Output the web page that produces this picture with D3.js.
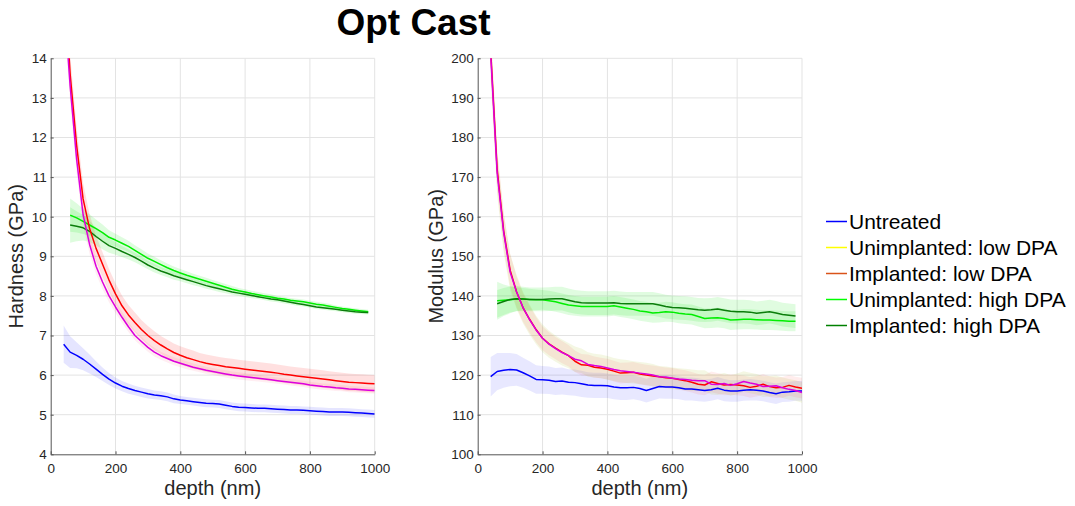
<!DOCTYPE html>
<html>
<head>
<meta charset="utf-8">
<script src="https://cdn.jsdelivr.net/npm/d3@7"></script>
<style>
  html, body { margin: 0; padding: 0; background: #ffffff; }
  svg { display: block; font-family: "Liberation Sans", Arial, Helvetica, sans-serif; }
</style>
</head>
<body>
<svg id="chart" width="1075" height="506"></svg>
<script>
// ---- depth grids (nm) ----
const depthLow = [40,60,80,100,120,140,160,180,200,220,240,260,280,300,320,340,360,380,400,420,440,460,480,500,520,540,560,580,600,620,640,660,680,700,720,740,760,780,800,820,840,860,880,900,920,940,960,980,1000];
const depthHigh = [60,80,100,120,140,160,180,200,220,240,260,280,300,320,340,360,380,400,420,440,460,480,500,520,540,560,580,600,620,640,660,680,700,720,740,760,780,800,820,840,860,880,900,920,940,960,980];

// ---- series labels and colours ----
const seriesNames = ["Untreated", "Unimplanted: low DPA", "Implanted: low DPA", "Unimplanted: high DPA", "Implanted: high DPA"];
const lineColors = ["#0000ff", "#dd00dd", "#ff0000", "#00ee00", "#0a7d0a"];
const legendColors = ["#0000ff", "#ffff00", "#d95319", "#00ff00", "#008000"];
const hardBandColors = ["rgba(0,0,255,0.10)", "rgba(255,40,90,0.08)", "rgba(255,0,0,0.12)", "rgba(0,230,0,0.13)", "rgba(0,230,0,0.13)"];
const modBandColors = ["rgba(0,0,255,0.09)", "rgba(180,200,70,0.15)", "rgba(255,0,0,0.07)", "rgba(0,230,0,0.12)", "rgba(0,230,0,0.12)"];
// drawing order of the mean curves (index into the series lists)
const drawOrder = [3, 4, 0, 2, 1];

// ---- hardness (GPa): mean and standard deviation ----
const hardUntreated = [6.78,6.58,6.50,6.40,6.28,6.15,6.02,5.90,5.80,5.72,5.66,5.61,5.57,5.53,5.50,5.48,5.45,5.40,5.37,5.35,5.33,5.31,5.29,5.28,5.27,5.24,5.21,5.19,5.18,5.17,5.16,5.16,5.15,5.14,5.13,5.12,5.12,5.11,5.10,5.09,5.08,5.07,5.07,5.07,5.06,5.05,5.04,5.03,5.02];
const hardUntreatedSd = [0.47,0.40,0.33,0.28,0.24,0.20,0.17,0.15,0.14,0.13,0.13,0.12,0.12,0.12,0.11,0.11,0.11,0.11,0.10,0.10,0.10,0.10,0.10,0.10,0.10,0.10,0.10,0.10,0.10,0.10,0.10,0.10,0.10,0.10,0.10,0.10,0.10,0.10,0.10,0.10,0.10,0.10,0.10,0.10,0.10,0.10,0.10,0.10,0.10];
const hardUnimpLow = [15.6,13.3,11.45,10.05,9.3,8.75,8.35,8.0,7.72,7.46,7.22,7.0,6.85,6.7,6.58,6.49,6.42,6.35,6.3,6.25,6.2,6.16,6.12,6.09,6.06,6.03,6.0,5.98,5.96,5.94,5.92,5.90,5.88,5.86,5.84,5.82,5.80,5.78,5.75,5.73,5.71,5.70,5.68,5.67,5.65,5.64,5.63,5.62,5.61];
const hardUnimpLowSd = [0.50,0.40,0.34,0.28,0.24,0.20,0.18,0.16,0.15,0.14,0.13,0.12,0.12,0.11,0.11,0.10,0.10,0.10,0.10,0.10,0.09,0.09,0.09,0.09,0.09,0.09,0.09,0.09,0.09,0.09,0.08,0.08,0.08,0.08,0.08,0.08,0.08,0.08,0.08,0.08,0.08,0.08,0.08,0.08,0.08,0.08,0.08,0.08,0.08];
const hardImpLow = [16.3,13.6,11.8,10.45,9.7,9.2,8.8,8.4,8.05,7.75,7.52,7.33,7.15,7.0,6.87,6.76,6.66,6.57,6.5,6.44,6.39,6.34,6.30,6.27,6.24,6.21,6.19,6.17,6.15,6.13,6.11,6.09,6.07,6.05,6.02,6.00,5.98,5.96,5.94,5.92,5.90,5.88,5.86,5.84,5.82,5.81,5.80,5.79,5.78];
const hardImpLowSd = [0.60,0.50,0.45,0.40,0.36,0.32,0.30,0.28,0.27,0.26,0.25,0.25,0.24,0.24,0.24,0.23,0.23,0.23,0.23,0.23,0.23,0.22,0.22,0.22,0.22,0.22,0.22,0.22,0.22,0.22,0.22,0.22,0.22,0.22,0.22,0.22,0.22,0.22,0.22,0.22,0.22,0.22,0.22,0.22,0.22,0.22,0.22,0.22,0.22];
const hardUnimpHigh = [10.04,9.97,9.88,9.79,9.7,9.6,9.48,9.41,9.33,9.25,9.15,9.05,8.95,8.87,8.79,8.71,8.64,8.58,8.52,8.47,8.42,8.37,8.32,8.27,8.22,8.17,8.13,8.10,8.06,8.03,8.0,7.97,7.94,7.92,7.89,7.87,7.85,7.82,7.79,7.77,7.74,7.71,7.68,7.66,7.64,7.62,7.60];
const hardUnimpHighSd = [0.42,0.37,0.32,0.27,0.23,0.20,0.18,0.16,0.15,0.14,0.13,0.13,0.12,0.12,0.11,0.11,0.10,0.10,0.10,0.09,0.09,0.09,0.08,0.08,0.08,0.08,0.07,0.07,0.07,0.07,0.07,0.07,0.06,0.06,0.06,0.06,0.06,0.06,0.06,0.06,0.06,0.05,0.05,0.05,0.05,0.05,0.05];
const hardImpHigh = [9.79,9.76,9.72,9.63,9.5,9.38,9.27,9.2,9.12,9.05,8.97,8.88,8.78,8.7,8.63,8.57,8.51,8.46,8.41,8.36,8.31,8.26,8.22,8.18,8.14,8.10,8.07,8.04,8.01,7.98,7.95,7.92,7.90,7.87,7.84,7.81,7.78,7.75,7.72,7.70,7.68,7.66,7.64,7.62,7.60,7.59,7.58];
const hardImpHighSd = [0.45,0.38,0.32,0.27,0.23,0.20,0.18,0.16,0.14,0.13,0.12,0.12,0.11,0.11,0.10,0.10,0.10,0.09,0.09,0.09,0.08,0.08,0.08,0.08,0.07,0.07,0.07,0.07,0.07,0.06,0.06,0.06,0.06,0.06,0.06,0.06,0.05,0.05,0.05,0.05,0.05,0.05,0.05,0.05,0.05,0.05,0.05];

// ---- modulus (GPa): mean and standard deviation ----
const modUntreated = [119.6,120.9,121.2,121.4,121.3,120.6,119.8,118.9,118.8,118.7,118.4,118.5,118.2,118.1,117.8,117.5,117.4,117.4,117.3,117.0,116.8,116.8,116.9,116.6,116.1,116.6,117.1,117.0,117.0,116.8,116.5,116.5,116.3,116.1,116.3,116.7,116.2,116.0,116.0,116.2,116.3,116.2,116.0,115.6,115.3,115.7,115.8,116.0,116.0];
const modUntreatedSd = [5.0,4.7,4.4,4.2,4.0,3.8,3.7,3.6,3.5,3.5,3.4,3.4,3.3,3.3,3.3,3.2,3.2,3.2,3.1,3.1,3.1,3.1,3.0,3.0,3.0,3.0,3.0,3.0,3.0,2.9,2.9,2.9,2.9,2.8,2.8,2.8,2.8,2.7,2.7,2.7,2.7,2.6,2.6,2.6,2.6,2.5,2.5,2.5,2.5];
const modUnimpLow = [201,171,156,146,141,137,134,131.4,129.3,127.8,126.7,125.7,124.9,124.0,123.6,122.7,122.4,122.2,121.8,121.4,121.1,120.9,120.7,120.5,120.3,120.0,119.6,119.5,119.2,119.0,118.9,118.7,118.6,118.6,117.7,117.6,117.9,117.4,117.8,118.4,118.0,117.7,117.1,117.2,117.3,116.8,116.4,116.1,115.6];
const modUnimpLowSd = [6.5,5.6,5.0,4.6,4.3,4.0,3.8,3.6,3.5,3.4,3.3,3.3,3.2,3.2,3.1,3.1,3.0,3.0,3.0,2.9,2.9,2.9,2.8,2.8,2.8,2.8,2.7,2.7,2.7,2.7,2.7,2.7,2.6,2.6,2.6,2.6,2.6,2.6,2.6,2.6,2.6,2.6,2.6,2.6,2.6,2.6,2.6,2.6,2.6];
const modImpLow = [202,172,156.5,146.5,141,137,134.1,131.5,129.3,127.9,126.8,125.8,124.9,123.5,122.6,122.5,122.0,121.8,121.5,121.0,120.5,120.6,120.7,120.3,120.0,119.8,119.6,119.3,119.2,118.9,118.6,118.2,117.7,117.5,118.3,117.9,117.5,117.6,117.5,117.3,116.9,117.2,117.7,117.1,116.8,116.9,117.4,117.0,116.7];
const modImpLowSd = [6.0,5.2,4.6,4.2,3.9,3.6,3.4,3.2,3.0,2.9,2.8,2.8,2.7,2.7,2.7,2.7,2.7,2.6,2.6,2.6,2.6,2.6,2.6,2.6,2.6,2.6,2.6,2.6,2.6,2.6,2.6,2.6,2.6,2.6,2.6,2.6,2.6,2.6,2.6,2.6,2.6,2.6,2.6,2.6,2.6,2.6,2.6,2.6,2.6];
const modUnimpHigh = [138.8,138.9,139.0,139.2,139.2,139.1,139.0,139.0,138.8,138.5,138.1,137.7,137.5,137.3,137.3,137.3,137.3,137.3,137.5,137.2,136.9,136.6,136.2,136.0,135.7,135.8,136.0,135.9,135.6,135.4,135.3,134.8,134.3,134.4,134.5,134.3,133.9,134.0,134.1,134.1,134.0,133.9,133.9,133.8,133.7,133.6,133.6];
const modUnimpHighSd = [4.8,4.0,3.4,3.0,2.8,2.7,2.6,2.5,2.5,2.5,2.5,2.5,2.5,2.5,2.5,2.5,2.5,2.5,2.5,2.5,2.5,2.5,2.5,2.5,2.5,2.5,2.5,2.5,2.5,2.5,2.5,2.5,2.5,2.5,2.5,2.5,2.5,2.5,2.5,2.5,2.5,2.5,2.5,2.5,2.5,2.5,2.5];
const modImpHigh = [138.0,138.6,139.1,139.3,139.2,139.1,139.1,139.1,139.2,139.3,139.3,138.9,138.5,138.3,138.2,138.2,138.2,138.2,138.3,138.1,138.0,138.0,138.0,138.0,138.0,137.7,137.3,137.1,137.0,136.9,136.7,136.5,136.4,136.5,136.7,136.4,136.1,136.0,136.0,135.9,135.6,135.8,136.0,135.7,135.3,135.1,134.9];
const modImpHighSd = [3.5,3.4,3.3,3.2,3.1,3.0,3.0,3.0,3.0,3.0,3.0,3.0,3.0,3.0,3.0,3.0,3.0,3.0,3.0,3.0,3.0,3.0,3.0,3.0,3.0,3.0,3.0,3.0,3.0,3.0,3.0,3.0,3.0,3.0,3.0,3.0,3.0,3.0,3.0,3.0,3.0,3.0,3.0,3.0,3.0,3.0,3.0];

// ---- axis ticks ----
const depthTicks = [0, 200, 400, 600, 800, 1000];
const hardTicks = [4, 5, 6, 7, 8, 9, 10, 11, 12, 13, 14];
const modTicks = [100, 110, 120, 130, 140, 150, 160, 170, 180, 190, 200];

const titleText = "Opt Cast";
const depthLabel = "depth (nm)";

function buildSeries(means, sds, bands) {
  const depths = [depthLow, depthLow, depthLow, depthHigh, depthHigh];
  return means.map((m, i) => ({
    name: seriesNames[i],
    color: lineColors[i],
    band: bands[i],
    points: m.map((v, j) => ({ d: depths[i][j], v: v, sd: sds[i][j] }))
  }));
}

const hardSeries = buildSeries(
  [hardUntreated, hardUnimpLow, hardImpLow, hardUnimpHigh, hardImpHigh],
  [hardUntreatedSd, hardUnimpLowSd, hardImpLowSd, hardUnimpHighSd, hardImpHighSd],
  hardBandColors);
const modSeries = buildSeries(
  [modUntreated, modUnimpLow, modImpLow, modUnimpHigh, modImpHigh],
  [modUntreatedSd, modUnimpLowSd, modImpLowSd, modUnimpHighSd, modImpHighSd],
  modBandColors);

const svg = d3.select("#chart");
svg.append("rect").attr("width", 1075).attr("height", 506).attr("fill", "#ffffff");

const axisColor = "#555555";
const textColor = "#262626";
const gridColor = "#e3e3e3";

function drawPanel(opts) {
  const { left, top, width, height, yDomain, yTicks, yLabel, yLabelX, series, clipId } = opts;
  const x = d3.scaleLinear().domain([0, 1000]).range([left, left + width]);
  const y = d3.scaleLinear().domain(yDomain).range([top + height, top]);
  const g = svg.append("g");

  g.append("clipPath").attr("id", clipId)
    .append("rect").attr("x", left).attr("y", top).attr("width", width).attr("height", height);

  // grid
  g.append("g").selectAll("line").data(depthTicks.slice(1)).join("line")
    .attr("x1", d => x(d)).attr("x2", d => x(d))
    .attr("y1", top).attr("y2", top + height)
    .attr("stroke", gridColor).attr("stroke-width", 1);
  g.append("g").selectAll("line").data(yTicks.slice(1)).join("line")
    .attr("x1", left).attr("x2", left + width)
    .attr("y1", d => y(d)).attr("y2", d => y(d))
    .attr("stroke", gridColor).attr("stroke-width", 1);

  const plot = g.append("g").attr("clip-path", `url(#${clipId})`);

  // shaded standard-deviation bands
  const area = d3.area()
    .x(p => x(p.d))
    .y0(p => y(p.v - p.sd))
    .y1(p => y(p.v + p.sd));
  plot.selectAll("path.band").data(series).join("path")
    .attr("class", "band")
    .attr("d", s => area(s.points))
    .attr("fill", s => s.band)
    .attr("stroke", "none");

  // mean curves
  const line = d3.line().x(p => x(p.d)).y(p => y(p.v));
  plot.selectAll("path.mean").data(drawOrder.map(i => series[i])).join("path")
    .attr("class", "mean")
    .attr("d", s => line(s.points))
    .attr("fill", "none")
    .attr("stroke", s => s.color)
    .attr("stroke-width", 1.5)
    .attr("stroke-linejoin", "round");

  // axes
  const fmt = d3.format("d");
  const xAxis = d3.axisBottom(x).tickValues(depthTicks).tickFormat(fmt).tickSizeInner(-3).tickSizeOuter(0).tickPadding(9);
  const yAxis = d3.axisLeft(y).tickValues(yTicks).tickFormat(fmt).tickSizeInner(-3).tickSizeOuter(0).tickPadding(4);
  const gx = g.append("g").attr("transform", `translate(0,${top + height})`).call(xAxis);
  const gy = g.append("g").attr("transform", `translate(${left},0)`).call(yAxis);
  [gx, gy].forEach(a => {
    a.select(".domain").attr("stroke", axisColor).attr("stroke-width", 1);
    a.selectAll(".tick line").attr("stroke", axisColor);
    a.selectAll(".tick text").attr("fill", textColor).style("font-size", "13.5px")
      .style("font-family", "'Liberation Sans', Arial, sans-serif");
  });

  // axis titles
  g.append("text")
    .attr("x", left + width / 2).attr("y", 495)
    .attr("text-anchor", "middle")
    .attr("fill", textColor)
    .style("font-size", "20px")
    .text(depthLabel);
  g.append("text")
    .attr("transform", `translate(${yLabelX},${top + height / 2}) rotate(-90)`)
    .attr("text-anchor", "middle")
    .attr("fill", textColor)
    .style("font-size", "20px")
    .text(yLabel);
}

drawPanel({ left: 50.7, top: 58.3, width: 324, height: 396, yDomain: [4, 14], yTicks: hardTicks,
  yLabel: "Hardness (GPa)", yLabelX: 23, series: hardSeries, clipId: "clipHard" });
drawPanel({ left: 477.7, top: 58.3, width: 324.3, height: 396, yDomain: [100, 200], yTicks: modTicks,
  yLabel: "Modulus (GPa)", yLabelX: 443, series: modSeries, clipId: "clipMod" });

// title
svg.append("text")
  .attr("x", 413.5).attr("y", 35)
  .attr("text-anchor", "middle")
  .attr("fill", "#000000")
  .style("font-size", "37px")
  .style("font-weight", "bold")
  .text(titleText);

// legend
const legend = svg.append("g");
const rows = legend.selectAll("g").data(seriesNames).join("g")
  .attr("transform", (d, i) => `translate(826,${221.5 + i * 26})`);
rows.append("line")
  .attr("x1", 0).attr("x2", 21).attr("y1", 0).attr("y2", 0)
  .attr("stroke", (d, i) => legendColors[i]).attr("stroke-width", 1.5);
rows.append("text")
  .attr("x", 23).attr("y", 0).attr("dy", "0.36em")
  .attr("fill", "#000000")
  .style("font-size", "21px")
  .text(d => d);
</script>
</body>
</html>
